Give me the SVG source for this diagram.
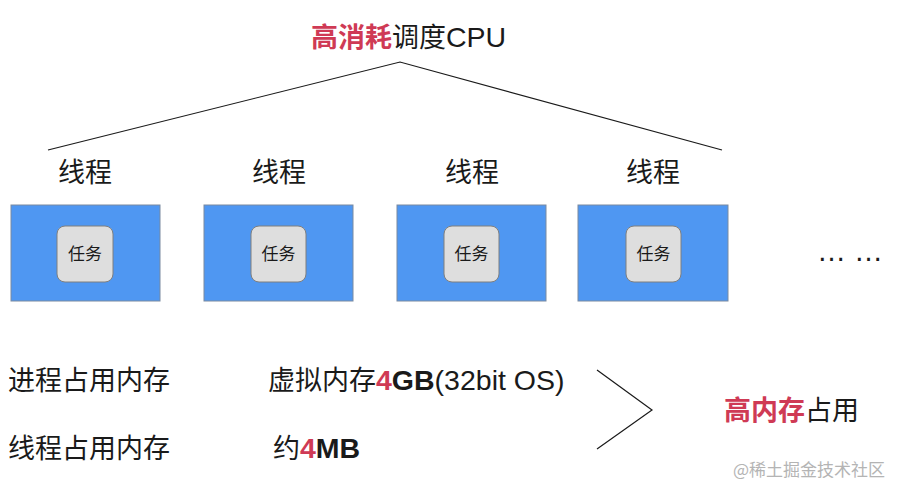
<svg xmlns="http://www.w3.org/2000/svg" width="899" height="489" viewBox="0 0 899 489">
<style>
text{font-family:"Liberation Sans","Noto Sans CJK SC",sans-serif;fill:#1a1a1a}
.cjk{font-family:"Noto Sans CJK SC","Liberation Sans",sans-serif}
.lat{font-family:"Liberation Sans",sans-serif;font-size:28.5px}
.big{font-size:27px}
.red{fill:#cf3a55}
.b{font-weight:bold}
.thread{fill:#4f97f2;stroke:#7a8aa0;stroke-width:1}
.task{fill:#dedede;stroke:#7f7f7f;stroke-width:1}
.tl{font-size:17px;text-anchor:middle}
.lbl{text-anchor:middle}
.conn{fill:none;stroke:#1a1a1a;stroke-width:1.2}
</style>
<rect width="899" height="489" fill="#ffffff"/>
<g id="title"><text class="cjk big" x="311" y="47"><tspan class="red b">高消耗</tspan>调度<tspan class="lat">CPU</tspan></text></g>
<g id="connectors">
<polyline class="conn" points="48,150 400,62 722,150"/>
<polyline class="conn" points="597,370 652,410 597,449"/>
</g>
<g id="thread1"><text class="cjk big lbl" x="85" y="182">线程</text><rect class="thread" x="11" y="205" width="149" height="96"/><rect class="task" x="57" y="226" width="56" height="56" rx="8"/><text class="cjk tl" x="85" y="260">任务</text></g>
<g id="thread2"><text class="cjk big lbl" x="279" y="182">线程</text><rect class="thread" x="204" y="205" width="149" height="96"/><rect class="task" x="251" y="226" width="55" height="56" rx="8"/><text class="cjk tl" x="278.5" y="260">任务</text></g>
<g id="thread3"><text class="cjk big lbl" x="472" y="182">线程</text><rect class="thread" x="397" y="205" width="149" height="96"/><rect class="task" x="444" y="226" width="55" height="56" rx="8"/><text class="cjk tl" x="471.5" y="260">任务</text></g>
<g id="thread4"><text class="cjk big lbl" x="653" y="182">线程</text><rect class="thread" x="578" y="205" width="150" height="96"/><rect class="task" x="626" y="226" width="55" height="56" rx="8"/><text class="cjk tl" x="653.5" y="260">任务</text></g>
<g id="more"><text x="817" y="261" font-size="29">… …</text></g>
<g id="process-mem"><text class="cjk big" x="8" y="390">进程占用内存</text><text class="cjk big" x="268" y="390">虚拟内存<tspan class="lat red b">4</tspan><tspan class="lat b">GB</tspan><tspan class="lat">(32bit OS)</tspan></text></g>
<g id="thread-mem"><text class="cjk big" x="8" y="458">线程占用内存</text><text class="cjk big" x="273" y="458">约<tspan class="lat red b">4</tspan><tspan class="lat b">MB</tspan></text></g>
<g id="result"><text class="cjk big" x="724" y="420"><tspan class="red b">高内存</tspan>占用</text></g>
<g id="watermark"><text class="cjk" x="733" y="476" font-size="17" style="fill:#b4b4b4">@稀土掘金技术社区</text></g>
</svg>
